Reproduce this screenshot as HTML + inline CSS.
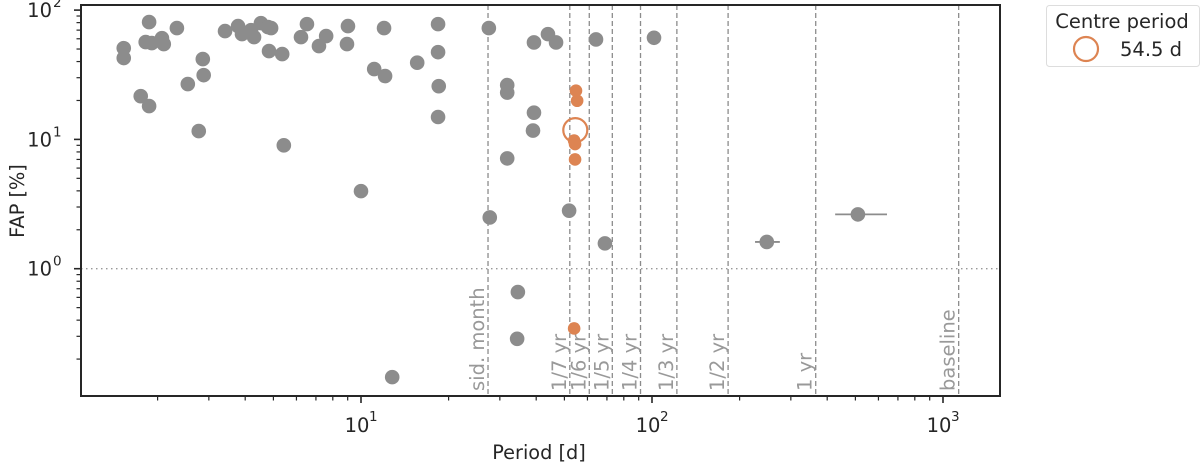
<!DOCTYPE html>
<html><head><meta charset="utf-8">
<style>
html,body{margin:0;padding:0;background:#fff;}
svg{display:block;font-family:"DejaVu Sans","Liberation Sans",sans-serif;}
</style></head>
<body>
<svg id="chart" width="1200" height="464" viewBox="0 0 1200 464" xmlns="http://www.w3.org/2000/svg">
<g id="grid"></g>
<g id="marks"></g>
<g id="axes"></g>
<text x="539" y="459" font-size="19.3" fill="#262626" text-anchor="middle">Period [d]</text>
<text transform="translate(24,201) rotate(-90)" font-size="19.3" fill="#262626" text-anchor="middle">FAP [%]</text>
<g>
<rect x="1046.5" y="5.5" width="153" height="61" rx="3" fill="#fff" stroke="#ddd"/>
<text x="1122" y="28" font-size="19.5" fill="#262626" text-anchor="middle">Centre period</text>
<circle cx="1086" cy="49" r="12" fill="none" stroke="#dd8452" stroke-width="2.2"/>
<text x="1120" y="56" font-size="19.5" fill="#262626">54.5 d</text>
</g>
</svg>
<script>
const grayPeriods=[1.53,1.53,1.75,1.87,1.87,1.82,1.91,2.07,2.10,2.33,2.54,2.77,2.86,2.88,3.41,3.78,3.90,4.19,4.29,4.53,4.79,4.91,4.83,5.36,5.43,6.22,6.52,7.17,7.59,9.02,8.95,10.0,11.1,12.1,12.0,12.8,18.4,18.4,15.6,18.5,18.4,27.5,27.7,31.8,31.8,31.8,34.6,34.4,39.3,43.9,46.8,39.3,39.0,64.2,101.6,51.9,68.9,248,510];
const grayFaps=[50.8,42.6,21.6,18.1,80.8,56.6,55.6,60.7,54.6,72.6,26.8,11.6,41.8,31.4,68.8,75.2,65.2,70.0,61.8,79.3,73.9,72.6,48.2,45.7,9.0,61.8,77.9,52.7,63.0,75.2,54.6,3.98,35.0,30.9,72.6,0.145,77.9,47.3,39.2,25.8,14.9,72.6,2.49,26.3,23.0,7.13,0.66,0.287,56.2,65.2,56.2,16.1,11.7,59.3,61.1,2.81,1.57,1.61,2.63];
const errLow=[226,426];
const errHigh=[275,642];
const errPeriods=[248,510];
const errFaps=[1.61,2.63];
const orangePeriods=[54.8,55.3,54.0,54.4,54.4,54.0];
const orangeFaps=[23.8,19.9,9.8,9.2,7.0,0.345];
const centrePeriod=[54.5];
const centreFap=[11.8];
const refPeriods=[27.32,52.18,60.88,73.05,91.31,121.75,182.6,365.25,1132];
const refLabels=["sid. month","1/7 yr","1/6 yr","1/5 yr","1/4 yr","1/3 yr","1/2 yr","1 yr","baseline"];
const xTickVals=[10,100,1000];
const xTickLabels=["1","2","3"];
const yTickVals=[1,10,100];
const yTickLabels=["0","1","2"];

const L=81,R=1000,T=5,B=396;
const X=p=>361+291*(Math.log10(p)-1);
const Y=f=>268.7-129.3*Math.log10(f);
const NS="http://www.w3.org/2000/svg";
function mk(tag,attrs,parent){const e=document.createElementNS(NS,tag);for(const k in attrs)e.setAttribute(k,attrs[k]);parent.appendChild(e);return e;}
const grid=document.getElementById('grid'),marks=document.getElementById('marks'),axes=document.getElementById('axes');

let hl=mk('line',{x1:L,x2:R,y1:Y(1),y2:Y(1),stroke:'#999','stroke-width':1.3,'stroke-dasharray':'1.5,3.5'},grid);


refPeriods.forEach((p,i)=>{
  const x=X(p);
  const ln=mk('line',{x1:x,x2:x,y1:T,y2:B,stroke:'#8c8c8c','stroke-width':1.3,'stroke-dasharray':'5,3'},grid);
  
  
  const t=mk('text',{transform:`translate(${x-4},391) rotate(-90)`,'font-size':19.5,fill:'#999'},grid);
  t.textContent=refLabels[i];
  
  
});
errPeriods.forEach((p,i)=>{
  const e=mk('line',{x1:X(errLow[i]),x2:X(errHigh[i]),y1:Y(errFaps[i]),y2:Y(errFaps[i]),stroke:'#8c8c8c','stroke-width':1.8},marks);
  
  
});
grayPeriods.forEach((p,i)=>{
  const c=mk('circle',{cx:X(p),cy:Y(grayFaps[i]),r:7.3,fill:'#8c8c8c'},marks);
  
  
});
orangePeriods.forEach((p,i)=>{
  const c=mk('circle',{cx:X(p),cy:Y(orangeFaps[i]),r:6.3,fill:'#dd8452'},marks);
  
  
});
centrePeriod.forEach((p,i)=>{
  const c=mk('circle',{cx:X(p),cy:Y(centreFap[i]),r:12,fill:'none',stroke:'#dd8452','stroke-width':2.2},marks);
  
  
});

const fr=mk('rect',{x:L,y:T,width:R-L,height:B-T,fill:'none',stroke:'#262626','stroke-width':2},axes);


for(let d=0;d<=3;d++){for(let m=1;m<10;m++){const v=m*Math.pow(10,d);const x=X(v);if(x<L||x>R)continue;
  const tk=mk('line',{x1:x,x2:x,y1:B,y2:B+(m===1?7:4.5),stroke:'#262626','stroke-width':m===1?1.6:1.2},axes);
  
  }}
xTickVals.forEach((v,i)=>{const x=X(v);
  const t=mk('text',{x:x-4,y:432,'font-size':19.5,fill:'#262626','text-anchor':'middle'},axes);
  t.textContent='10';
  
  
  const s=mk('text',{x:x+8,y:421,'font-size':13.5,fill:'#262626','text-anchor':'start'},axes);
  s.textContent=xTickLabels[i];
  
  });
for(let d=-1;d<=2;d++){for(let m=1;m<10;m++){const v=m*Math.pow(10,d);const y=Y(v);if(y<T-1||y>B)continue;
  const tk=mk('line',{x1:L,x2:L-(m===1?7:4.5),y1:y,y2:y,stroke:'#262626','stroke-width':m===1?1.6:1.2},axes);
  
  }}
yTickVals.forEach((v,i)=>{const y=Y(v);
  const t=mk('text',{x:52,y:y+7,'font-size':19.5,fill:'#262626','text-anchor':'end'},axes);
  t.textContent='10';
  
  
  const s=mk('text',{x:53,y:y-3,'font-size':13.5,fill:'#262626'},axes);
  s.textContent=yTickLabels[i];
  
  });
</script>
</body></html>
